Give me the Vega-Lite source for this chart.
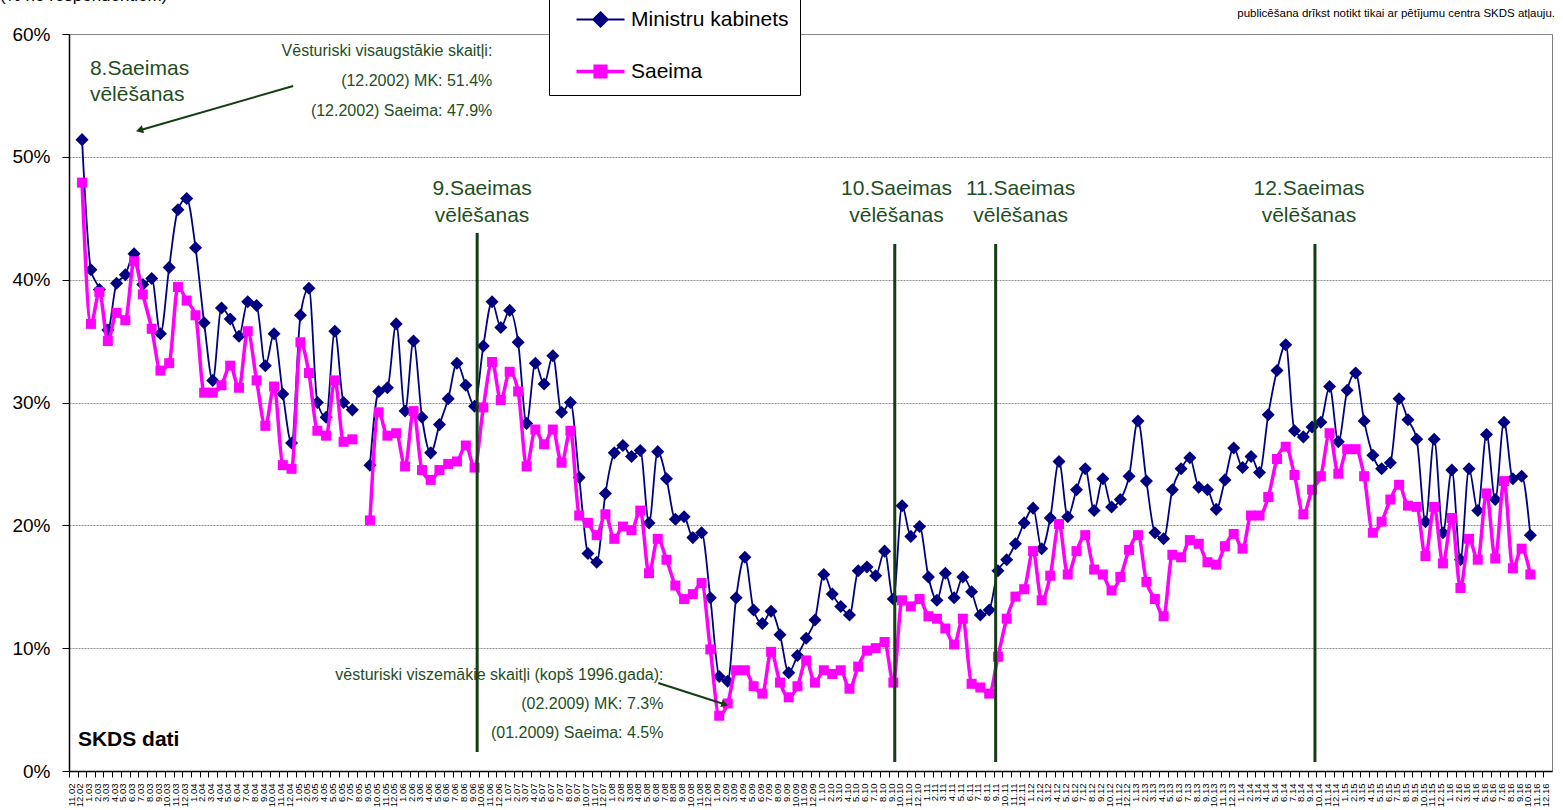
{
 "$schema": "https://vega.github.io/schema/vega-lite/v6.json",
 "width": 1483, "height": 737,
 "autosize": {"type": "none"},
 "padding": {"left": 69, "top": 34, "right": 11, "bottom": 39},
 "background": "white",
 "config": {"font": "Liberation Sans", "view": {"stroke": "#7f7f7f", "strokeWidth": 1}},
 "datasets": {"poll": [
  {"m":"2002-12","mk":51.4,"s":47.9},{"m":"2003-01","mk":40.8,"s":36.4},{"m":"2003-02","mk":39.2,"s":39.0},{"m":"2003-03","mk":35.9,"s":35.0},
  {"m":"2003-04","mk":39.7,"s":37.3},{"m":"2003-05","mk":40.4,"s":36.7},{"m":"2003-06","mk":42.1,"s":41.5},{"m":"2003-07","mk":39.6,"s":38.8},
  {"m":"2003-08","mk":40.1,"s":36.0},{"m":"2003-09","mk":35.6,"s":32.6},{"m":"2003-10","mk":41.0,"s":33.2},{"m":"2003-11","mk":45.7,"s":39.4},
  {"m":"2003-12","mk":46.6,"s":38.3},{"m":"2004-01","mk":42.6,"s":37.1},{"m":"2004-02","mk":36.5,"s":30.8},{"m":"2004-03","mk":31.8,"s":30.8},
  {"m":"2004-04","mk":37.7,"s":31.4},{"m":"2004-05","mk":36.8,"s":33.0},{"m":"2004-06","mk":35.4,"s":31.2},{"m":"2004-07","mk":38.2,"s":35.8},
  {"m":"2004-08","mk":37.9,"s":31.8},{"m":"2004-09","mk":33.0,"s":28.1},{"m":"2004-10","mk":35.6,"s":31.3},{"m":"2004-11","mk":30.7,"s":24.9},
  {"m":"2004-12","mk":26.7,"s":24.6},{"m":"2005-01","mk":37.1,"s":34.9},{"m":"2005-02","mk":39.3,"s":32.4},{"m":"2005-03","mk":30.0,"s":27.7},
  {"m":"2005-04","mk":28.8,"s":27.3},{"m":"2005-05","mk":35.8,"s":31.8},{"m":"2005-06","mk":30.0,"s":26.8},{"m":"2005-07","mk":29.4,"s":27.0},
  {"m":"2005-08","mk":null,"s":null},{"m":"2005-09","mk":24.9,"s":20.4},{"m":"2005-10","mk":30.9,"s":29.2},{"m":"2005-11","mk":31.2,"s":27.3},
  {"m":"2005-12","mk":36.4,"s":27.5},{"m":"2006-01","mk":29.3,"s":24.8},{"m":"2006-02","mk":35.0,"s":29.3},{"m":"2006-03","mk":28.8,"s":24.5},
  {"m":"2006-04","mk":25.9,"s":23.7},{"m":"2006-05","mk":28.2,"s":24.5},{"m":"2006-06","mk":30.3,"s":25.0},{"m":"2006-07","mk":33.2,"s":25.2},
  {"m":"2006-08","mk":31.4,"s":26.5},{"m":"2006-09","mk":29.7,"s":24.7},{"m":"2006-10","mk":34.6,"s":29.6},{"m":"2006-11","mk":38.2,"s":33.3},
  {"m":"2006-12","mk":36.1,"s":30.2},{"m":"2007-01","mk":37.5,"s":32.5},{"m":"2007-02","mk":34.9,"s":30.9},{"m":"2007-03","mk":28.3,"s":24.8},
  {"m":"2007-04","mk":33.2,"s":27.8},{"m":"2007-05","mk":31.5,"s":26.6},{"m":"2007-06","mk":33.8,"s":27.8},{"m":"2007-07","mk":29.2,"s":25.1},
  {"m":"2007-08","mk":30.0,"s":27.7},{"m":"2007-09","mk":23.9,"s":20.8},{"m":"2007-10","mk":17.7,"s":20.2},{"m":"2007-11","mk":17.0,"s":19.2},
  {"m":"2007-12","mk":22.6,"s":20.9},{"m":"2008-01","mk":25.9,"s":18.9},{"m":"2008-02","mk":26.5,"s":19.9},{"m":"2008-03","mk":25.6,"s":19.6},
  {"m":"2008-04","mk":26.1,"s":21.2},{"m":"2008-05","mk":20.2,"s":16.1},{"m":"2008-06","mk":26.0,"s":18.9},{"m":"2008-07","mk":23.8,"s":17.2},
  {"m":"2008-08","mk":20.5,"s":15.1},{"m":"2008-09","mk":20.7,"s":14.0},{"m":"2008-10","mk":19.0,"s":14.4},{"m":"2008-11","mk":19.4,"s":15.3},
  {"m":"2008-12","mk":14.1,"s":9.9},{"m":"2009-01","mk":7.7,"s":4.5},{"m":"2009-02","mk":7.3,"s":5.5},{"m":"2009-03","mk":14.1,"s":8.2},
  {"m":"2009-04","mk":17.4,"s":8.2},{"m":"2009-05","mk":13.1,"s":6.9},{"m":"2009-06","mk":12.0,"s":6.3},{"m":"2009-07","mk":13.0,"s":9.7},
  {"m":"2009-08","mk":11.1,"s":7.2},{"m":"2009-09","mk":8.0,"s":6.0},{"m":"2009-10","mk":9.4,"s":6.9},{"m":"2009-11","mk":10.8,"s":9.0},
  {"m":"2009-12","mk":12.3,"s":7.2},{"m":"2010-01","mk":16.0,"s":8.2},{"m":"2010-02","mk":14.4,"s":7.9},{"m":"2010-03","mk":13.4,"s":8.2},
  {"m":"2010-04","mk":12.7,"s":6.7},{"m":"2010-05","mk":16.3,"s":8.5},{"m":"2010-06","mk":16.6,"s":9.8},{"m":"2010-07","mk":15.9,"s":10.0},
  {"m":"2010-08","mk":17.9,"s":10.5},{"m":"2010-09","mk":14.0,"s":7.2},{"m":"2010-10","mk":21.6,"s":13.9},{"m":"2010-11","mk":19.1,"s":13.4},
  {"m":"2010-12","mk":19.9,"s":14.0},{"m":"2011-01","mk":15.8,"s":12.6},{"m":"2011-02","mk":13.9,"s":12.4},{"m":"2011-03","mk":16.1,"s":11.6},
  {"m":"2011-04","mk":14.1,"s":10.3},{"m":"2011-05","mk":15.8,"s":12.4},{"m":"2011-06","mk":14.6,"s":7.1},{"m":"2011-07","mk":12.7,"s":6.8},
  {"m":"2011-08","mk":13.1,"s":6.3},{"m":"2011-09","mk":16.3,"s":9.3},{"m":"2011-10","mk":17.2,"s":12.4},{"m":"2011-11","mk":18.5,"s":14.2},
  {"m":"2011-12","mk":20.2,"s":14.8},{"m":"2012-01","mk":21.4,"s":17.9},{"m":"2012-02","mk":18.1,"s":13.9},{"m":"2012-03","mk":20.6,"s":15.9},
  {"m":"2012-04","mk":25.2,"s":20.1},{"m":"2012-05","mk":20.7,"s":16.0},{"m":"2012-06","mk":22.9,"s":17.9},{"m":"2012-07","mk":24.6,"s":19.2},
  {"m":"2012-08","mk":21.2,"s":16.4},{"m":"2012-09","mk":23.8,"s":16.0},{"m":"2012-10","mk":21.5,"s":14.7},{"m":"2012-11","mk":22.1,"s":15.8},
  {"m":"2012-12","mk":24.0,"s":18.0},{"m":"2013-01","mk":28.5,"s":19.2},{"m":"2013-02","mk":23.6,"s":15.4},{"m":"2013-03","mk":19.4,"s":14.0},
  {"m":"2013-04","mk":18.9,"s":12.6},{"m":"2013-05","mk":22.9,"s":17.6},{"m":"2013-06","mk":24.6,"s":17.4},{"m":"2013-07","mk":25.5,"s":18.8},
  {"m":"2013-08","mk":23.1,"s":18.5},{"m":"2013-09","mk":22.9,"s":17.0},{"m":"2013-10","mk":21.3,"s":16.8},{"m":"2013-11","mk":23.7,"s":18.3},
  {"m":"2013-12","mk":26.3,"s":19.3},{"m":"2014-01","mk":24.7,"s":18.1},{"m":"2014-02","mk":25.6,"s":20.8},{"m":"2014-03","mk":24.3,"s":20.8},
  {"m":"2014-04","mk":29.0,"s":22.3},{"m":"2014-05","mk":32.6,"s":25.4},{"m":"2014-06","mk":34.7,"s":26.4},{"m":"2014-07","mk":27.7,"s":24.1},
  {"m":"2014-08","mk":27.2,"s":20.9},{"m":"2014-09","mk":28.0,"s":22.9},{"m":"2014-10","mk":28.4,"s":24.0},{"m":"2014-11","mk":31.3,"s":27.5},
  {"m":"2014-12","mk":26.8,"s":24.2},{"m":"2015-01","mk":31.0,"s":26.2},{"m":"2015-02","mk":32.4,"s":26.2},{"m":"2015-03","mk":28.5,"s":24.0},
  {"m":"2015-04","mk":25.7,"s":19.4},{"m":"2015-05","mk":24.6,"s":20.3},{"m":"2015-06","mk":25.1,"s":22.1},{"m":"2015-07","mk":30.3,"s":23.3},
  {"m":"2015-08","mk":28.6,"s":21.6},{"m":"2015-09","mk":27.0,"s":21.5},{"m":"2015-10","mk":20.3,"s":17.5},{"m":"2015-11","mk":27.0,"s":21.5},
  {"m":"2015-12","mk":19.4,"s":16.9},{"m":"2016-01","mk":24.5,"s":20.6},{"m":"2016-02","mk":17.2,"s":14.9},{"m":"2016-03","mk":24.6,"s":18.9},
  {"m":"2016-04","mk":21.2,"s":17.2},{"m":"2016-05","mk":27.4,"s":22.6},{"m":"2016-06","mk":22.1,"s":17.3},{"m":"2016-07","mk":28.4,"s":23.6},
  {"m":"2016-08","mk":23.8,"s":16.5},{"m":"2016-09","mk":24.0,"s":18.1},{"m":"2016-10","mk":19.2,"s":16.0}
 ]},
 "layer": [
  {"data": {"name": "poll"},
   "mark": {"type": "line", "strokeWidth": 1.8, "interpolate": "monotone"},
   "encoding": {
    "x": {"field": "m", "type": "temporal", "timeUnit": "utcyearmonth", "bandPosition": 0.5,
          "scale": {"type": "utc", "nice": false, "domain": [{"year": 2002, "month": 11, "date": 1, "utc": true}, {"year": 2016, "month": 12, "date": 31, "utc": true}]},
          "axis": {"title": null, "format": "%-m.%y", "tickCount": {"interval": "month", "step": 1}, "labelAngle": 270, "labelFontSize": 9.5,
                   "labelPadding": 6, "labelOffset": 2, "tickSize": 6, "tickColor": "black", "domainColor": "black", "domainWidth": 1.5,
                   "labelColor": "black", "labelOverlap": false, "labelFlush": false, "grid": false}},
    "y": {"field": "mk", "type": "quantitative", "scale": {"domain": [0, 60], "nice": false},
          "axis": {"title": null, "values": [0, 10, 20, 30, 40, 50, 60], "labelExpr": "datum.value + '%'", "labelFontSize": 19,
                   "labelPadding": 12, "tickSize": 7, "tickColor": "black", "domainColor": "black", "domainWidth": 1.5, "labelColor": "black",
                   "grid": true, "gridColor": "#8c8c8c", "gridDash": [2, 1], "gridWidth": 1}},
    "color": {"datum": "Ministru kabinets", "type": "nominal",
              "scale": {"domain": ["Ministru kabinets", "Saeima"], "range": ["#000080", "#FF00FF"]},
              "legend": {"orient": "none", "legendX": 480, "legendY": -36, "title": null, "strokeColor": "black", "fillColor": "white",
                         "padding": 11, "symbolOffset": 30, "labelOffset": 20, "labelFontSize": 21, "labelColor": "black", "labelLimit": 400,
                         "rowPadding": 28, "symbolSize": 2304,
                         "encode": {"symbols": {"update": {
                           "shape": {"signal": "datum.value === 'Saeima' ? 'M-1,0L1,0M-0.22,-0.22L0.22,-0.22L0.22,0.22L-0.22,0.22Z' : 'M-1,0L1,0M0,-0.3L0.3,0L0,0.3L-0.3,0Z'"},
                           "fill": {"signal": "datum.value === 'Saeima' ? '#FF00FF' : '#000080'"},
                           "stroke": {"signal": "datum.value === 'Saeima' ? '#FF00FF' : '#000080'"},
                           "strokeWidth": {"signal": "datum.value === 'Saeima' ? 3.5 : 2"},
                           "opacity": {"value": 1}, "fillOpacity": {"value": 1}, "strokeOpacity": {"value": 1},
                           "size": {"value": 2304}}}}}}
   }},
  {"data": {"name": "poll"},
   "mark": {"type": "point", "shape": "diamond", "filled": true, "size": 170, "opacity": 1},
   "encoding": {
    "x": {"field": "m", "type": "temporal", "timeUnit": "utcyearmonth", "bandPosition": 0.5},
    "y": {"field": "mk", "type": "quantitative"},
    "color": {"datum": "Ministru kabinets", "type": "nominal"}}},
  {"data": {"name": "poll"},
   "mark": {"type": "line", "strokeWidth": 3.5, "interpolate": "monotone"},
   "encoding": {
    "x": {"field": "m", "type": "temporal", "timeUnit": "utcyearmonth", "bandPosition": 0.5},
    "y": {"field": "s", "type": "quantitative"},
    "color": {"datum": "Saeima", "type": "nominal"}}},
  {"data": {"name": "poll"},
   "mark": {"type": "point", "shape": "square", "filled": true, "size": 100, "opacity": 1},
   "encoding": {
    "x": {"field": "m", "type": "temporal", "timeUnit": "utcyearmonth", "bandPosition": 0.5},
    "y": {"field": "s", "type": "quantitative"},
    "color": {"datum": "Saeima", "type": "nominal"}}},
  {"data": {"values": [{"event": "9.Saeimas vēlēšanas", "at": "2006-09-25"}]},
   "mark": {"type": "rule", "color": "#143D14", "strokeWidth": 3},
   "encoding": {"x": {"field": "at", "type": "temporal"}, "y": {"datum": 43.8, "type": "quantitative"}, "y2": {"datum": 1.55}}},
  {"data": {"values": [{"event": "10.Saeimas vēlēšanas", "at": "2010-09-21"}, {"event": "11.Saeimas vēlēšanas", "at": "2011-09-08"}, {"event": "12.Saeimas vēlēšanas", "at": "2014-09-26"}]},
   "mark": {"type": "rule", "color": "#143D14", "strokeWidth": 3},
   "encoding": {"x": {"field": "at", "type": "temporal"}, "y": {"datum": 42.9, "type": "quantitative"}, "y2": {"datum": 0.73}}},
  {"data": {"values": [{"label": "9.Saeimas\nvēlēšanas", "at": "2006-10-12"}, {"label": "10.Saeimas\nvēlēšanas", "at": "2010-09-27"},
                       {"label": "11.Saeimas\nvēlēšanas", "at": "2011-12-04"}, {"label": "12.Saeimas\nvēlēšanas", "at": "2014-09-05"}]},
   "mark": {"type": "text", "align": "center", "baseline": "alphabetic", "fontSize": 21, "color": "#1F4E1F", "lineBreak": "\n", "lineHeight": 27},
   "encoding": {"x": {"field": "at", "type": "temporal"}, "y": {"datum": 46.9, "type": "quantitative"}, "text": {"field": "label"}}},
  {"data": {"values": [{"label": "8.Saeimas\nvēlēšanas", "at": "2003-01-13"}]},
   "mark": {"type": "text", "align": "left", "baseline": "alphabetic", "fontSize": 21, "color": "#1F4E1F", "lineBreak": "\n", "lineHeight": 26},
   "encoding": {"x": {"field": "at", "type": "temporal"}, "y": {"datum": 56.66, "type": "quantitative"}, "text": {"field": "label"}}},
  {"data": {"values": [{"note": "Vēsturiski visaugstākie skaitļi:\n(12.2002) MK: 51.4%\n(12.2002) Saeima: 47.9%"}]},
   "mark": {"type": "text", "align": "right", "baseline": "alphabetic", "fontSize": 16, "color": "#1F4E1F", "lineBreak": "\n", "lineHeight": 30},
   "encoding": {"x": {"datum": {"year": 2006, "month": 11, "date": 17, "utc": true}, "type": "temporal"}, "y": {"datum": 58.17, "type": "quantitative"}, "text": {"field": "note"}}},
  {"data": {"values": [{"note": "vēsturiski viszemākie skaitļi (kopš 1996.gada):\n(02.2009) MK: 7.3%\n(01.2009) Saeima: 4.5%"}]},
   "mark": {"type": "text", "align": "right", "baseline": "alphabetic", "fontSize": 16, "color": "#1F4E1F", "lineBreak": "\n", "lineHeight": 29},
   "encoding": {"x": {"datum": {"year": 2008, "month": 7, "date": 6, "utc": true}, "type": "temporal"}, "y": {"datum": 7.37, "type": "quantitative"}, "text": {"field": "note"}}},
  {"data": {"values": [{"t": "SKDS dati"}]},
   "mark": {"type": "text", "align": "left", "baseline": "alphabetic", "fontSize": 21, "fontWeight": "bold", "color": "black"},
   "encoding": {"x": {"datum": {"year": 2002, "month": 12, "date": 2, "utc": true}, "type": "temporal"}, "y": {"datum": 2.04, "type": "quantitative"}, "text": {"field": "t"}}},
  {"data": {"values": [{"t": "publicēšana drīkst notikt tikai ar pētījumu centra SKDS atļauju."}]},
   "mark": {"type": "text", "align": "right", "baseline": "alphabetic", "fontSize": 11.5, "color": "black", "dx": 3},
   "encoding": {"x": {"datum": {"year": 2016, "month": 12, "date": 31, "utc": true}, "type": "temporal"}, "y": {"datum": 61.39, "type": "quantitative"}, "text": {"field": "t"}}},
  {"data": {"values": [{"t": "(% no respondentiem)"}]},
   "mark": {"type": "text", "align": "left", "baseline": "alphabetic", "fontSize": 17, "color": "black", "dx": -69},
   "encoding": {"x": {"datum": {"year": 2002, "month": 11, "date": 1, "utc": true}, "type": "temporal"}, "y": {"datum": 62.7, "type": "quantitative"}, "text": {"field": "t"}}},
  {"data": {"values": [{"a": "augstākie"}]},
   "mark": {"type": "rule", "color": "#143D14", "strokeWidth": 2},
   "encoding": {"x": {"datum": {"year": 2004, "month": 12, "date": 22, "utc": true}, "type": "temporal"}, "y": {"datum": 55.77, "type": "quantitative"},
                "x2": {"datum": {"year": 2003, "month": 7, "date": 9, "utc": true}}, "y2": {"datum": 52.19}}},
  {"data": {"values": [{"a": "augstākie"}]},
   "mark": {"type": "point", "shape": "triangle", "filled": true, "size": 70, "angle": 254, "color": "#143D14", "opacity": 1},
   "encoding": {"x": {"datum": {"year": 2003, "month": 7, "date": 9, "utc": true}, "type": "temporal"}, "y": {"datum": 52.19, "type": "quantitative"}}},
  {"data": {"values": [{"a": "zemākie"}]},
   "mark": {"type": "rule", "color": "#143D14", "strokeWidth": 2},
   "encoding": {"x": {"datum": {"year": 2008, "month": 6, "date": 18, "utc": true}, "type": "temporal"}, "y": {"datum": 7.16, "type": "quantitative"},
                "x2": {"datum": {"year": 2009, "month": 2, "date": 1, "utc": true}}, "y2": {"datum": 5.45}}},
  {"data": {"values": [{"a": "zemākie"}]},
   "mark": {"type": "point", "shape": "triangle", "filled": true, "size": 60, "angle": 108, "color": "#143D14", "opacity": 1},
   "encoding": {"x": {"datum": {"year": 2009, "month": 2, "date": 1, "utc": true}, "type": "temporal"}, "y": {"datum": 5.45, "type": "quantitative"}}}
 ]
}
